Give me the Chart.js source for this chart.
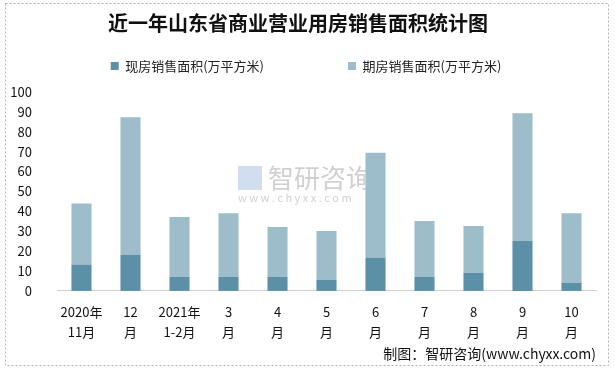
<!DOCTYPE html>
<html>
  <head>
    <meta charset="UTF-8" />
    <title>近一年山东省商业营业用房销售面积统计图</title>
    <style>
      body { margin: 0; background: #fff; }
      #wrap { width: 615px; height: 371px; position: relative; }
    </style>
  </head>
  <body>
    <div id="wrap"><canvas id="myCanvas"></canvas></div>
    <script src="https://cdn.jsdelivr.net/npm/chart.js@4/dist/chart.umd.min.js"></script>
    <script>
      const months = [["2020年", "11月"], ["12", "月"], ["2021年", "1-2月"], ["3", "月"], ["4", "月"], ["5", "月"], ["6", "月"], ["7", "月"], ["8", "月"], ["9", "月"], ["10", "月"]];
      const xianfang = [13.2, 18.2, 7.2, 7.2, 7.2, 5.7, 16.7, 7.2, 9.2, 25.1, 4.2];
      const qifang = [30.8, 69.1, 29.9, 31.9, 24.9, 24.4, 52.7, 27.9, 23.4, 64.2, 34.9];
      const yTicks = [0, 10, 20, 30, 40, 50, 60, 70, 80, 90, 100];

      const cjk = "'Noto Sans CJK SC', 'Noto Sans', sans-serif";

      // dashed frame, faint watermark, legend spacing tweaks
      const extras = {
        id: "extras",
        beforeLayout(chart) {
          const lg = chart.legend;
          if (lg && !lg._patched) {
            const fit = lg.fit;
            lg.fit = function () {
              fit.call(this);
              this.height += 9.5;
            };
            lg._patched = true;
          }
        },
        afterLayout(chart) {
          chart.legend.left += 8;
          chart.legend.right += 8;
        },
        beforeDraw(chart) {
          const c = chart.ctx;
          c.save();
          c.strokeStyle = "#b0b0b0";
          c.setLineDash([2, 2]);
          c.lineWidth = 1;
          c.strokeRect(5.5, 3.5, 603, 362);
          c.restore();
        },
        beforeDatasetsDraw(chart) {
          const c = chart.ctx;
          c.save();
          c.fillStyle = "rgba(150,150,150,0.45)";
          c.font = "26px " + cjk;
          c.textAlign = "left";
          c.textBaseline = "middle";
          c.fillText("智研咨询", 268, 178);
          c.font = "11px " + cjk;
          c.fillText("w w w . c h y x x . c o m", 238, 198);
          c.fillStyle = "rgba(120,160,210,0.35)";
          c.fillRect(238, 166, 24, 24);
          c.restore();
        }
      };

      const ctx = document.getElementById("myCanvas").getContext("2d");
      const myChart = new Chart(ctx, {
        type: "bar",
        data: {
          labels: months,
          datasets: [
            {
              label: "现房销售面积(万平方米)",
              data: xianfang,
              backgroundColor: "#5b90a7",
              barPercentage: 0.82,
              categoryPercentage: 0.5
            },
            {
              label: "期房销售面积(万平方米)",
              data: qifang,
              backgroundColor: "#9ebdca",
              barPercentage: 0.82,
              categoryPercentage: 0.5
            }
          ]
        },
        options: {
          responsive: true,
          maintainAspectRatio: false,
          animation: false,
          layout: { padding: { left: 0, right: 19, top: 12, bottom: 9 } },
          plugins: {
            title: {
              display: true,
              text: "近一年山东省商业营业用房销售面积统计图",
              color: "#111",
              font: { family: "'Liberation Serif', 'Noto Sans CJK SC', serif", size: 20, weight: "bold" },
              padding: { top: 2, bottom: 2.5 }
            },
            legend: {
              display: true,
              labels: {
                boxWidth: 8,
                boxHeight: 8,
                padding: 19,
                color: "#222",
                font: { family: cjk, size: 13 },
                generateLabels(chart) {
                  const items = Chart.defaults.plugins.legend.labels.generateLabels(chart);
                  items[0].text = items[0].text + "\u3000\u3000\u3000\u3000\u3000";
                  return items;
                }
              }
            },
            subtitle: {
              display: true,
              position: "bottom",
              align: "end",
              text: "制图：智研咨询(www.chyxx.com)",
              color: "#111",
              font: { family: cjk, size: 14 },
              padding: { top: 0, bottom: 0 }
            },
            tooltip: { enabled: false }
          },
          scales: {
            x: {
              stacked: true,
              grid: { display: false },
              border: { display: true, color: "#d0d0d0" },
              ticks: {
                color: "#111",
                maxRotation: 0,
                autoSkip: false,
                font: { family: cjk, size: 13, lineHeight: 1.55 },
                padding: 3
              }
            },
            y: {
              stacked: true,
              min: 0,
              max: 100,
              afterBuildTicks(axis) {
                axis.ticks = yTicks.map(v => ({ value: v }));
              },
              afterFit(axis) {
                axis.width = 57;
              },
              grid: { display: false },
              border: { display: false },
              ticks: {
                color: "#111",
                padding: 17,
                font: { family: cjk, size: 13 }
              }
            }
          }
        },
        plugins: [extras]
      });
    </script>
  </body>
</html>
